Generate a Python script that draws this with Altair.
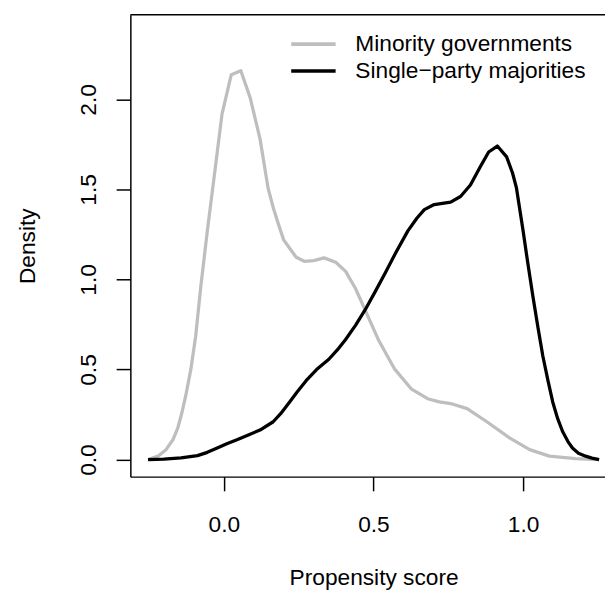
import altair as alt
import pandas as pd

series_names = ["Minority governments", "Single\u2212party majorities"]
series_colors = ["#BEBEBE", "#000000"]

minority_x = [-0.253, -0.22, -0.193, -0.17, -0.154, -0.14, -0.127, -0.11, -0.094, -0.077,
              -0.055, -0.03, -0.006, 0.025, 0.057, 0.088, 0.121, 0.148, 0.165, 0.181,
              0.2, 0.214, 0.242, 0.269, 0.30, 0.335, 0.374, 0.407, 0.44, 0.472,
              0.516, 0.571, 0.626, 0.681, 0.72, 0.758, 0.813, 0.879, 0.956, 1.022,
              1.088, 1.175, 1.254]
minority_y = [0.0, 0.019, 0.055, 0.11, 0.174, 0.26, 0.356, 0.502, 0.685, 0.959,
              1.27, 1.60, 1.918, 2.137, 2.159, 2.01, 1.781, 1.507, 1.40, 1.315,
              1.22, 1.187, 1.123, 1.101, 1.105, 1.12, 1.096, 1.045, 0.95, 0.831,
              0.667, 0.502, 0.393, 0.338, 0.32, 0.311, 0.283, 0.21, 0.119, 0.055,
              0.019, 0.005, 0.0]

majority_x = [-0.253, -0.2, -0.143, -0.088, -0.055, -0.022, 0.01, 0.044, 0.08, 0.121,
              0.165, 0.19, 0.22, 0.245, 0.275, 0.31, 0.351, 0.38, 0.407, 0.44,
              0.472, 0.505, 0.538, 0.575, 0.615, 0.645, 0.67, 0.703, 0.758, 0.791,
              0.824, 0.857, 0.885, 0.914, 0.945, 0.965, 0.978, 1.0, 1.015, 1.033,
              1.05, 1.066, 1.083, 1.099, 1.115, 1.132, 1.15, 1.165, 1.185, 1.209,
              1.23, 1.254]
majority_y = [0.0, 0.002, 0.009, 0.022, 0.04, 0.064, 0.088, 0.11, 0.135, 0.164,
              0.21, 0.255, 0.32, 0.375, 0.438, 0.5, 0.557, 0.61, 0.667, 0.745,
              0.831, 0.93, 1.032, 1.15, 1.27, 1.34, 1.388, 1.416, 1.43, 1.461,
              1.525, 1.626, 1.708, 1.741, 1.681, 1.59, 1.507, 1.27, 1.10, 0.904,
              0.73, 0.575, 0.44, 0.32, 0.23, 0.156, 0.1, 0.064, 0.035, 0.019,
              0.008, 0.0]

x_ticks = [0.0, 0.5, 1.0]
y_ticks = [0.0, 0.5, 1.0, 1.5, 2.0]

FONT = "Liberation Sans"
FS = 23
W, H = 481, 468

df_min = pd.DataFrame({"x": minority_x, "y": minority_y, "i": range(len(minority_x)),
                       "series": series_names[0]})
df_maj = pd.DataFrame({"x": majority_x, "y": majority_y, "i": range(len(majority_x)),
                       "series": series_names[1]})

xscale = alt.Scale(domain=[-0.3122, 1.2737], nice=False, zero=False)
yscale = alt.Scale(domain=[-0.0948, 2.4696], nice=False, zero=False)

xaxis = alt.Axis(values=x_ticks, format=".1f", grid=False, tickSize=14.4,
                 labelBaseline="alphabetic", labelPadding=41.6, labelFlush=False,
                 title="Propensity score", titleX=246.5, titleY=109,
                 titleAlign="center", titleBaseline="alphabetic")
yaxis = alt.Axis(values=y_ticks, format=".1f", grid=False, tickSize=14.4,
                 labelAngle=270, labelAlign="center", labelBaseline="alphabetic",
                 labelPadding=20.6, labelFlush=False,
                 title="Density", titleX=-97, titleY=H / 2, titleAngle=270,
                 titleAlign="center", titleBaseline="alphabetic")

def curve(df, color):
    return alt.Chart(df).mark_line(color=color, strokeWidth=3.3, strokeJoin="round").encode(
        x=alt.X("x:Q", scale=xscale, axis=xaxis),
        y=alt.Y("y:Q", scale=yscale, axis=yaxis),
        order="i:Q",
    )

layers = [curve(df_min, series_colors[0]), curve(df_maj, series_colors[1])]

# top frame line
layers.append(alt.Chart(pd.DataFrame({"a": [0]})).mark_rule(color="black", strokeWidth=1.5).encode(
    x=alt.value(0), x2=alt.value(W), y=alt.value(0)))

# legend
leg_y = [29.7, 57.0]
for name, col, ly in zip(series_names, series_colors, leg_y):
    d = pd.DataFrame({"label": [name]})
    layers.append(alt.Chart(d).mark_rule(color=col, strokeWidth=3.6).encode(
        x=alt.value(163), x2=alt.value(208), y=alt.value(ly)))
    layers.append(alt.Chart(d).mark_text(align="left", baseline="middle", font=FONT,
                                         fontSize=FS, color="black").encode(
        x=alt.value(228), y=alt.value(ly), text="label:N"))

chart = alt.layer(*layers).properties(
    width=W, height=H,
    autosize=alt.AutoSizeParams(type="none"),
    padding={"left": 124, "top": 3, "right": 0, "bottom": 114},
).configure_view(stroke=None).configure_axis(
    domainColor="black", domainWidth=1.5, tickColor="black", tickWidth=1.5,
    labelFont=FONT, labelFontSize=FS, labelColor="black",
    titleFont=FONT, titleFontSize=FS, titleColor="black", titleFontWeight="normal",
)

chart.save("out.html", embed_options={"renderer": "svg", "actions": False})
